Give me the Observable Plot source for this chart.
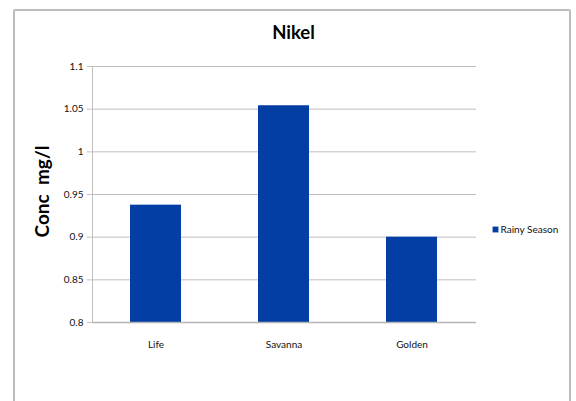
<!DOCTYPE html>
<html>
<head>
<meta charset="utf-8">
<script src="https://cdn.jsdelivr.net/npm/d3@7"></script>
<script src="https://cdn.jsdelivr.net/npm/@observablehq/plot@0.6"></script>
<style>
  html, body { margin: 0; padding: 0; background: #fff; }
  #wrap { position: relative; width: 576px; height: 401px; overflow: hidden; }
  #border { position: absolute; left: 13px; top: 9px; width: 558px; height: 420px;
            border: 2px solid #bdbdbd; box-sizing: border-box; border-radius: 2px; }
  svg { position: absolute; left: 0; top: 0; }
</style>
</head>
<body>
<div id="wrap"><div id="border"></div></div>
<script>
const categories = ["Life", "Savanna", "Golden"];
const values = [0.9375, 1.054, 0.9];
const yTicks = [0.8, 0.85, 0.9, 0.95, 1, 1.05, 1.1];
const seriesName = "Rainy Season";
const titleText = "Nikel";
const yLabel = "Conc  mg/l";

const data = categories.map((c, i) => ({ site: c, value: values[i] }));
const blue = "#023ea4";
const font = "Lato, 'Open Sans', sans-serif";

const chart = Plot.plot({
  width: 576,
  height: 401,
  marginLeft: 92,
  marginRight: 100,
  marginTop: 66,
  marginBottom: 79,
  style: { fontFamily: font, background: "transparent", overflow: "visible" },
  x: { domain: categories, paddingInner: 0.6, paddingOuter: 0.3, axis: null },
  y: { domain: [yTicks[0], yTicks[yTicks.length - 1]], axis: null },
  marks: [
    Plot.gridY(yTicks, { stroke: "#bfbfbf", strokeOpacity: 1 }),
    Plot.barY(data, { x: "site", y1: yTicks[0], y2: "value", fill: blue }),
    Plot.ruleY([yTicks[0]], { stroke: "#b5b5b5", strokeWidth: 1.5 }),
    Plot.frame({ anchor: "left", stroke: "#bfbfbf" }),
    Plot.axisY({ ticks: yTicks, tickSize: 5, tickPadding: 4, stroke: "#bfbfbf",
                 tickFormat: d => String(+d.toFixed(2)), fontSize: 10, fill: "#111", label: null }),
    Plot.axisX({ tickSize: 0, tickPadding: 18, fontSize: 10, fill: "#111", label: null }),
    Plot.text([titleText], { frameAnchor: "top", dx: 9, dy: -33, fontSize: 18.5, fontWeight: "bold", fill: "#000", lineAnchor: "middle" }),
    Plot.text([yLabel], { frameAnchor: "left", textAnchor: "middle", lineAnchor: "middle", dx: -50, dy: -3, rotate: -90, fontSize: 19, fontWeight: "bold", fill: "#000" }),
    Plot.dot([seriesName], { frameAnchor: "right", dx: 19, dy: 35, symbol: "square", r: 3.3, fill: blue, stroke: "none" }),
    Plot.text([seriesName], { frameAnchor: "right", dx: 24, dy: 35, textAnchor: "start", fontSize: 10, fill: "#111" })
  ]
});
document.getElementById("wrap").appendChild(chart);
</script>
</body>
</html>
